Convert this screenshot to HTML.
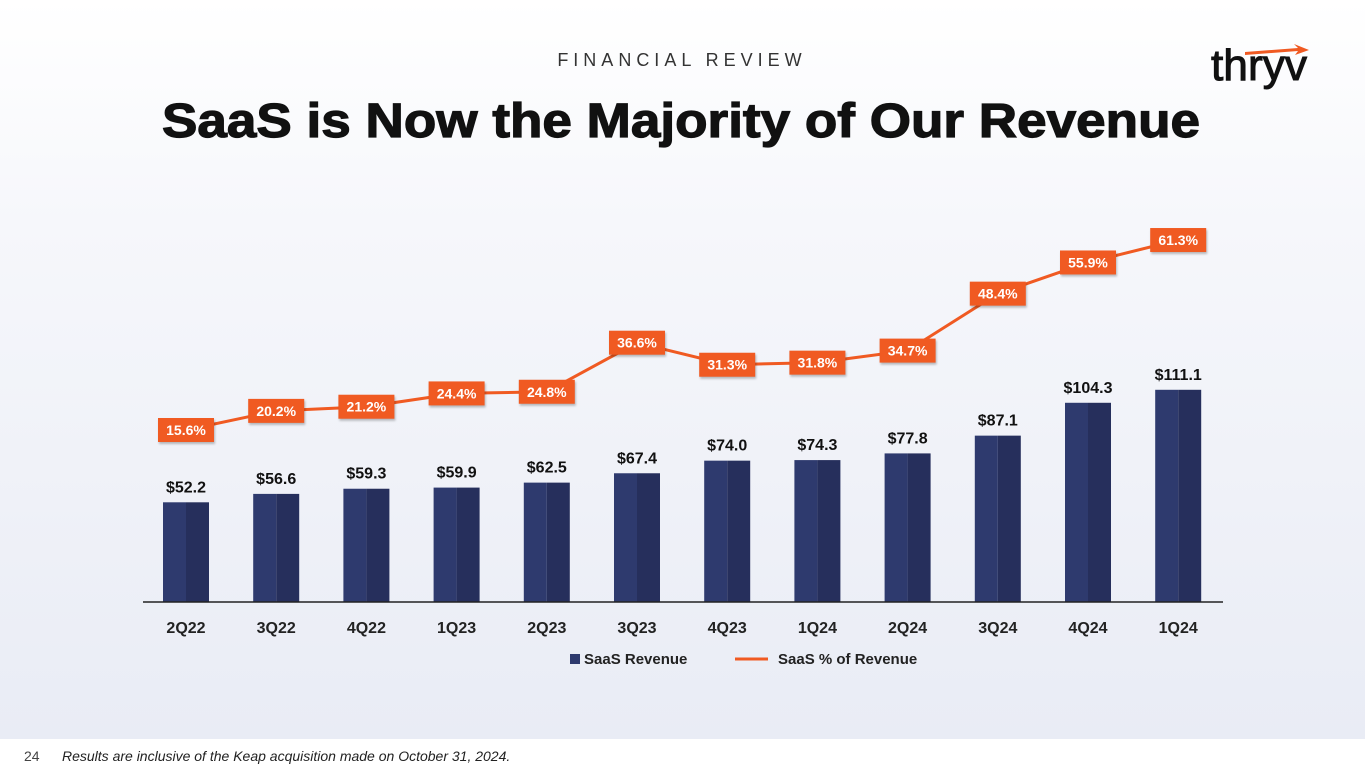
<!DOCTYPE html>
<html><head><meta charset="utf-8"><style>
html,body{margin:0;padding:0;width:1365px;height:768px;overflow:hidden;font-family:"Liberation Sans",sans-serif}
#bg{position:absolute;left:0;top:0;width:1365px;height:739px;background:linear-gradient(#ffffff 0%,#f6f7fb 30%,#e9ecf5 100%)}
svg{position:absolute;left:0;top:0}
</style></head><body>
<div id="bg"></div>
<svg id="chart" width="1365" height="768">
<text x="682" y="66" text-anchor="middle" font-size="18" letter-spacing="5" fill="#333">FINANCIAL REVIEW</text>
<text x="681" y="137" text-anchor="middle" font-size="48" font-weight="bold" fill="#111" stroke="#111" stroke-width="1.2" textLength="1038" lengthAdjust="spacingAndGlyphs">SaaS is Now the Majority of Our Revenue</text>
<g>
<text x="1211" y="80" font-size="44" fill="#111" stroke="#111" stroke-width="1" textLength="96" lengthAdjust="spacingAndGlyphs">thryv</text>
<polygon points="1245,52 1298,48 1294,44 1309,50 1295,55 1298,51 1245,55" fill="#f05a22"/>
</g>
<g id="bars"></g><g id="line"></g><g id="xlabels"></g>
<line x1="143" y1="602" x2="1223" y2="602" stroke="#222" stroke-width="1.5"/>
<g>
<rect x="570" y="654" width="10" height="10" fill="#2e3a6e"/>
<text x="584" y="664" font-size="15" font-weight="bold" fill="#222">SaaS Revenue</text>
<line x1="735" y1="659" x2="768" y2="659" stroke="#f05a22" stroke-width="3"/>
<text x="778" y="664" font-size="15" font-weight="bold" fill="#222">SaaS % of Revenue</text>
</g>
<rect x="0" y="739" width="1365" height="29" fill="#fff"/>
<text x="24" y="761" font-size="14" fill="#444">24</text>
<text x="62" y="761" font-size="14" font-style="italic" fill="#222">Results are inclusive of the Keap acquisition made on October 31, 2024.</text>
</svg>
<script>
const categories=["2Q22","3Q22","4Q22","1Q23","2Q23","3Q23","4Q23","1Q24","2Q24","3Q24","4Q24","1Q24"];
const revenue=[52.2,56.6,59.3,59.9,62.5,67.4,74.0,74.3,77.8,87.1,104.3,111.1];
const percent=[15.6,20.2,21.2,24.4,24.8,36.6,31.3,31.8,34.7,48.4,55.9,61.3];
const NS="http://www.w3.org/2000/svg";
function xc(i){return 186+i*90.2;}
function yBar(v){return 602-v*1.91;}
function yPct(v){return 430-(v-15.6)*4.157;}
function mk(tag,attrs,parent){const e=document.createElementNS(NS,tag);for(const k in attrs)e.setAttribute(k,attrs[k]);parent.appendChild(e);return e;}
const gb=document.getElementById('bars'),gl=document.getElementById('line'),gx=document.getElementById('xlabels');
categories.forEach((c,i)=>{
 const x=xc(i),t=yBar(revenue[i]);
 const l=mk('rect',{x:x-23,y:t,width:23,height:602-t,fill:'#2e3a6e'},gb);
 
 
 const r=mk('rect',{x:x,y:t,width:23,height:602-t,fill:'#262f5c'},gb);
 
 
 const v=mk('text',{x:x,y:t-10,'text-anchor':'middle','font-size':16,'font-weight':'bold',fill:'#111'},gb);
 v.textContent='$'+revenue[i].toFixed(1);
 
 
 const xl=mk('text',{x:x,y:633,'text-anchor':'middle','font-size':16,'font-weight':'bold',fill:'#222'},gx);
 xl.textContent=c;
 
 
});
const pts=percent.map((p,i)=>xc(i)+','+yPct(p)).join(' ');
const pl=mk('polyline',{points:pts,fill:'none',stroke:'#f05a22','stroke-width':3},gl);


percent.forEach((p,i)=>{
 const x=xc(i),y=yPct(p);
 const b=mk('rect',{x:x-28,y:y-12,width:56,height:24,fill:'#f05a22',style:'filter:drop-shadow(1px 2px 1px rgba(0,0,0,0.25))'},gl);
 
 
 const t=mk('text',{x:x,y:y+5,'text-anchor':'middle','font-size':14,'font-weight':'bold',fill:'#fff'},gl);
 t.textContent=p.toFixed(1)+'%';
 
 
});
</script>
</body></html>
